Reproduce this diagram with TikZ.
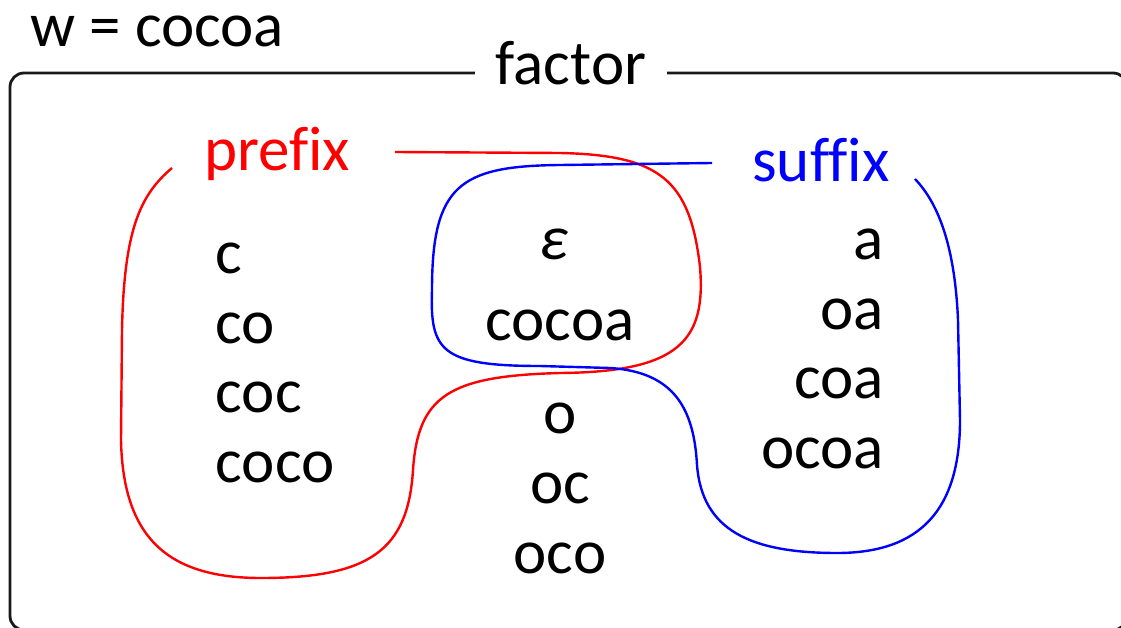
\documentclass[tikz,border=0pt]{standalone}
\usepackage{fontspec}
\setmainfont{Carlito}[Ligatures=CommonOff]
\tikzset{
  word/.style={inner sep=0pt, font=\fontsize{63}{75}\selectfont},
  frame/.style={draw=black!90, line width=2.8pt, rounded corners=14pt},
  blob/.style={line width=2.4pt},
}
\begin{document}
\begin{tikzpicture}[x=1pt, y=-1pt]
  \useasboundingbox (0,0) rectangle (1121,628);
  % outer box with its title
  \draw[frame] (10,73) rectangle (1127,630);
  \node (wrd) [word, anchor=base west] at (30,47) {w = cocoa};
  \node (factor) [word, fill=white, inner xsep=21pt, inner ysep=3pt, anchor=base] at (571,85) {factor};
  \node (prefix) [word, red, anchor=base] at (277,171) {prefix};
  \node (suffix) [word, blue, anchor=base] at (821,182) {suffix};
  % prefixes
  \node (p1) [word, anchor=base west] at (215.5,273) {c};
  \node (p2) [word, anchor=base west] at (215.5,343) {co};
  \node (p3) [word, anchor=base west] at (215.5,412) {coc};
  \node (p4) [word, anchor=base west] at (215.5,482) {coco};
  % both
  \node (eps) [word, anchor=base] at (554,260) {\itshape ε};
  \node (full) [word, anchor=base] at (560,340) {cocoa};
  % neither
  \node (m1) [word, anchor=base] at (560,433) {o};
  \node (m2) [word, anchor=base] at (560,503) {oc};
  \node (m3) [word, anchor=base] at (560,573) {oco};
  % suffixes
  \node (s1) [word, anchor=base east] at (884,260) {a};
  \node (s2) [word, anchor=base east] at (884,329) {oa};
  \node (s3) [word, anchor=base east] at (884,398) {coa};
  \node (s4) [word, anchor=base east] at (884,468) {ocoa};
  % prefix region
  \draw[blob, red] (395,152) -- (560,153)
    .. controls (660,155) and (690,180) .. (700,267)
    .. controls (706,340) and (680,372) .. (560,373)
    .. controls (450,376) and (418,395) .. (413,470)
    .. controls (408,550) and (370,578) .. (261,578)
    .. controls (170,578) and (123,540) .. (121,440)
    -- (122,330)
    .. controls (124,230) and (140,195) .. (172,168);
  % suffix region
  \draw[blob, blue] (712,163) -- (560,165)
    .. controls (460,166) and (432,185) .. (432,290)
    .. controls (430,350) and (440,366) .. (540,366)
    -- (610,368)
    .. controls (675,372) and (694,410) .. (697,465)
    .. controls (702,530) and (750,553) .. (837,553)
    .. controls (920,553) and (960,510) .. (960,420)
    -- (958,320)
    .. controls (955,250) and (940,205) .. (915,179);
\end{tikzpicture}
\end{document}
